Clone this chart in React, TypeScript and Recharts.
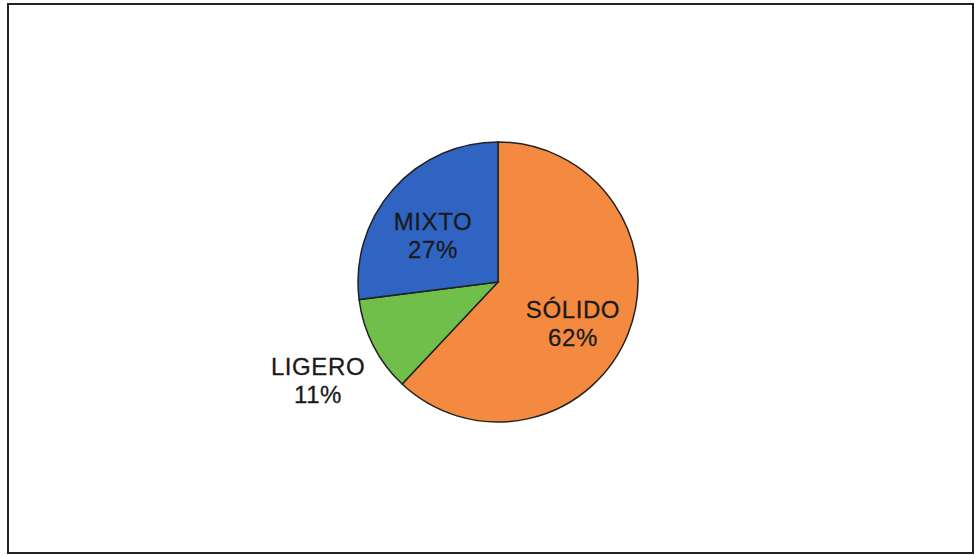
import { PieChart, Pie, Cell } from 'recharts'

const categories = ['SÓLIDO', 'LIGERO', 'MIXTO']
const shares = [62, 11, 27]
const colors = ['#F48A3F', '#6FBF4A', '#3064C2']

const data = categories.map((name, i) => ({ name, value: shares[i] }))

// label placement per slice: radius factor and angle nudge (deg), like the Excel original
const labelPlace = [
  { r: 0.607, nudge: -6.5 },
  { r: 1.46, nudge: 1.3 },
  { r: 0.577, nudge: 5 },
]

const RAD = Math.PI / 180

const renderLabel = (props: any) => {
  const { cx, cy, midAngle, outerRadius, index, name, value } = props
  const p = labelPlace[index]
  const a = (midAngle + p.nudge) * RAD
  const x = cx + outerRadius * p.r * Math.cos(a)
  const y = cy - outerRadius * p.r * Math.sin(a)
  return (
    <text
      x={x}
      y={y}
      textAnchor="middle"
      fill="#1a1a1a"
      fontSize={24}
      letterSpacing={0.6}
      stroke="#1a1a1a"
      strokeWidth={0.3}
      fontFamily="'Liberation Sans', Arial, sans-serif"
    >
      <tspan x={x} dy={-4}>{name}</tspan>
      <tspan x={x} dy={28}>{value}%</tspan>
    </text>
  )
}

export default function App() {
  return (
    <div style={{ position: 'absolute', left: 0, top: 0, width: 975, height: 556, background: '#fff' }}>
      <div
        style={{
          position: 'absolute',
          left: 7,
          top: 3,
          width: 963,
          height: 547,
          border: '2px solid #222',
        }}
      />
      <PieChart
        width={975}
        height={556}
        margin={{ top: 0, right: 0, bottom: 0, left: 0 }}
        style={{ position: 'absolute', left: 0, top: 0 }}
      >
        <Pie
          data={data}
          dataKey="value"
          nameKey="name"
          cx={498}
          cy={282}
          outerRadius={140}
          startAngle={90}
          endAngle={-270}
          stroke="#222"
          strokeWidth={1.5}
          label={renderLabel}
          labelLine={false}
          isAnimationActive={false}
        >
          {data.map((entry, index) => (
            <Cell key={`cell-${index}`} fill={colors[index]} />
          ))}
        </Pie>
      </PieChart>
    </div>
  )
}
